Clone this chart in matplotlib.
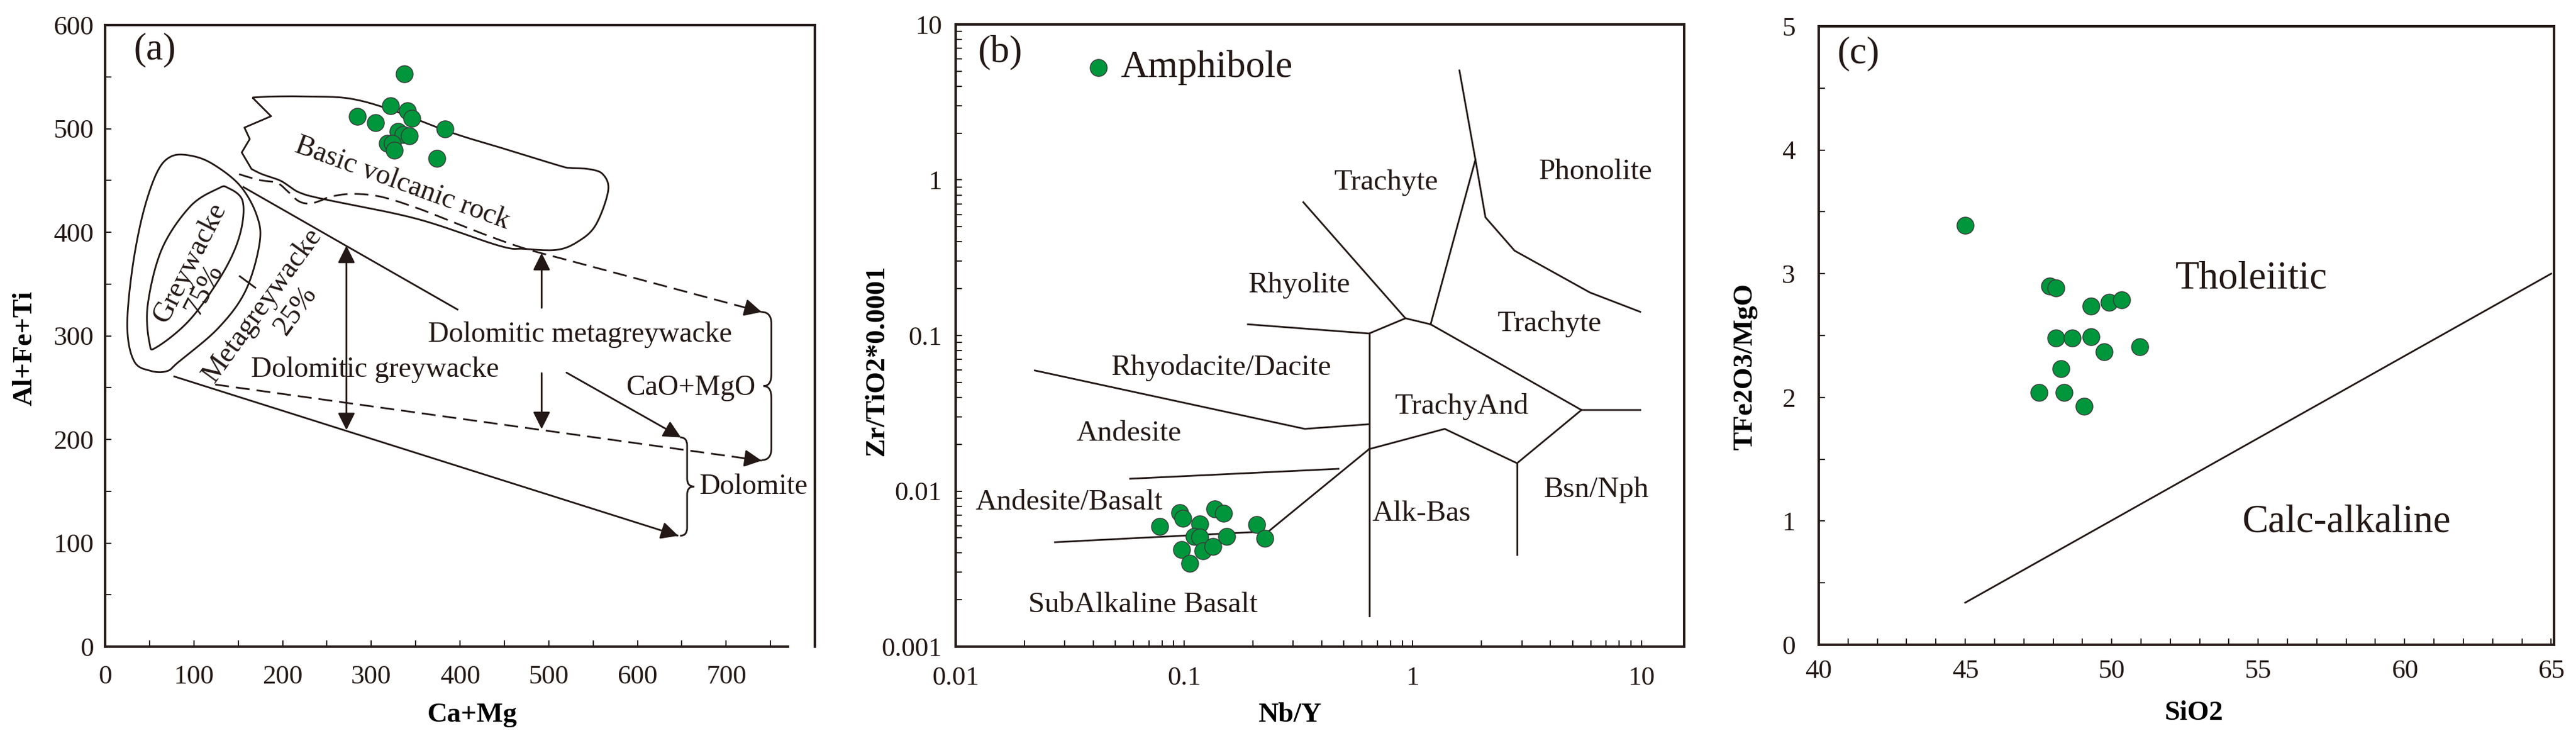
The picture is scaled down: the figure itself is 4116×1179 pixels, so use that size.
import numpy as np
import matplotlib
matplotlib.use('Agg')
import matplotlib.pyplot as plt
from matplotlib.path import Path
from matplotlib.patches import PathPatch
from matplotlib.ticker import MultipleLocator, FixedLocator, FixedFormatter, LogLocator, NullFormatter

plt.rcParams['font.family'] = ['Liberation Serif', 'DejaVu Serif']

INK = '#231815'
GREEN = '#00963c'

# ---------------- (a) Ca+Mg vs Al+Fe+Ti ----------------
a_camg = [337, 284, 305, 322, 341, 346, 383, 330, 336, 343, 318, 324, 326, 374]
a_alfeti = [553, 512, 506, 522, 517, 510, 500, 497, 494, 493, 486, 486, 479, 471]

basic_jagged = [(166, 530), (187, 512), (157, 501), (163, 490), (154, 477), (165, 461)]
basic_smooth = [(165, 461), (177, 456), (197, 450), (208, 444), (220, 438), (246, 432),
                (351, 413), (444, 387), (472, 384), (509, 383), (533, 391), (553, 407),
                (567, 440), (561, 456), (545, 461), (525, 462), (513, 464), (456, 479),
                (391, 496), (323, 518), (276, 529), (230, 531), (189, 531), (166, 530)]
greywacke_inner = [(138, 443), (155, 430), (152, 398), (133, 361), (96, 316), (58, 289),
                   (50, 293), (48, 330), (64, 384), (96, 425), (127, 442)]
greywacke_outer = [(74, 473), (96, 474), (121, 466), (152, 445), (171, 416), (174, 389),
                   (158, 343), (127, 307), (83, 275), (70, 266), (52, 266), (33, 275),
                   (25, 307), (30, 361), (42, 416), (58, 457)]
ellipse_tick = [(151, 358), (170, 346)]
upper_solid = [(155, 444), (398, 325)]
upper_dashed = [(151, 456), (173, 450.5), (193.5, 447.7), (205.6, 439.6), (217.7, 430.2),
                (229.9, 427.6), (242, 430.2), (254.2, 434.3), (278.4, 437), (310.7, 434.3),
                (351.1, 423.5), (391.5, 410), (432, 396.5), (472.5, 384.4), (512.9, 375),
                (740, 323)]
lower_dashed = [(124, 253), (740, 179.5)]
lower_solid = [(77, 261), (646, 107)]
double_arrow = [(272, 387), (272, 209)]
up_arrow = [(492, 327), (492, 380)]
down_arrow = [(492, 264), (492, 210)]
diag_arrow = [(520, 264.5), (649, 202)]
# brace: body x, y bottom, y top, end offset, tip offset
brace_cao = (751, 180, 323, -11, -9)
brace_dol = (656, 107, 202, -8, 8)

a_labels = [
    ('Basic volcanic rock', 335, 447, -20),
    ('Greywacke', 95.6, 370.5, 63),
    ('75%', 111.3, 344.5, 63),
    ('Metagreywacke', 177.4, 329.5, 54),
    ('25%', 215, 324, 54),
    ('Dolomitic metagreywacke', 535, 301, 0),
    ('Dolomitic greywacke', 304, 267, 0),
    ('CaO+MgO', 660, 250, 0),
    ('Dolomite', 731, 154, 0),
]

# ---------------- (b) Nb/Y vs Zr/TiO2 ----------------
b_nby = [0.0782, 0.0956, 0.0987, 0.1173, 0.1357, 0.1484, 0.207, 0.2253, 0.153,
         0.1105, 0.1169, 0.0975, 0.121, 0.1334, 0.1058]
b_zrti = [0.00594, 0.00724, 0.00667, 0.00617, 0.00766, 0.00719, 0.00611, 0.00497,
          0.00512, 0.00512, 0.00505, 0.00419, 0.00413, 0.0044, 0.00343]

b_lines = [
    [(0.0272, 0.00469), (0.234, 0.00551), (0.644, 0.0186)],
    [(0.058, 0.012), (0.473, 0.0139)],
    [(0.644, 0.00157), (0.644, 0.103)],
    [(0.0222, 0.0596), (0.337, 0.0251), (0.644, 0.0269)],
    [(0.190, 0.118), (0.644, 0.103), (0.929, 0.129), (1.197, 0.118)],
    [(0.332, 0.719), (0.929, 0.129)],
    [(1.197, 0.118), (5.47, 0.0332), (9.9, 0.0332)],
    [(1.60, 5.06), (1.88, 1.35), (1.197, 0.118)],
    [(1.88, 1.35), (2.08, 0.575), (2.79, 0.351), (5.96, 0.189), (9.89, 0.142)],
    [(0.644, 0.0186), (1.38, 0.0251), (2.86, 0.0151), (5.47, 0.0332)],
    [(2.86, 0.0151), (2.86, 0.00389)],
]
b_labels = [
    ('Trachyte', 0.763, 0.964), ('Phonolite', 6.31, 1.13), ('Rhyolite', 0.319, 0.21),
    ('Trachyte', 3.95, 0.118), ('Rhyodacite/Dacite', 0.145, 0.062),
    ('TrachyAnd', 1.63, 0.0348), ('Andesite', 0.0573, 0.0233),
    ('Andesite/Basalt', 0.0313, 0.00848), ('Bsn/Nph', 6.37, 0.0102),
    ('Alk-Bas', 1.09, 0.00713), ('SubAlkaline Basalt', 0.066, 0.00185),
]

# ---------------- (c) SiO2 vs TFe2O3/MgO ----------------
c_sio2 = [45.0, 47.89, 48.09, 49.30, 49.91, 50.34, 48.09, 48.66, 49.30, 49.75, 50.95,
          48.27, 47.51, 48.37, 49.05]
c_ratio = [3.39, 2.90, 2.885, 2.74, 2.77, 2.79, 2.48, 2.48, 2.49, 2.37, 2.41, 2.23,
           2.04, 2.04, 1.93]
c_line = [(45, 0.34), (65, 3.0)]


def catmull_rom(points, closed=False, n=20):
    p = np.asarray(points, dtype=float)
    if closed:
        p = np.vstack([p[-1], p, p[0], p[1]])
    else:
        p = np.vstack([p[0], p, p[-1]])
    out = []
    t = np.linspace(0, 1, n, endpoint=False)[:, None]
    for i in range(1, len(p) - 2):
        p0, p1, p2, p3 = p[i - 1], p[i], p[i + 1], p[i + 2]
        seg = 0.5 * ((2 * p1) + (-p0 + p2) * t + (2 * p0 - 5 * p1 + 4 * p2 - p3) * t ** 2
                     + (-p0 + 3 * p1 - 3 * p2 + p3) * t ** 3)
        out.append(seg)
    out.append(p[-2][None, :])
    return np.vstack(out)


def line(ax, pts, **kw):
    pts = np.asarray(pts)
    ax.plot(pts[:, 0], pts[:, 1], color=INK, lw=2.0, solid_capstyle='butt', **kw)


def arrow(ax, start, end, style='-|>'):
    ax.annotate('', xy=end, xytext=start,
                arrowprops=dict(arrowstyle=style, color=INK, lw=2.0, mutation_scale=42,
                                shrinkA=0, shrinkB=0))


def brace(ax, x, y0, y1, end_dx, tip_dx):
    ym = (y0 + y1) / 2
    h = (y1 - y0) * 0.08
    e = x + end_dx
    t = x + tip_dx
    verts = [(e, y1), (x, y1), (x, y1 - h), (x, ym + h), (x, ym), (t, ym),
             (x, ym), (x, ym - h), (x, y0 + h), (x, y0), (e, y0)]
    codes = [Path.MOVETO, Path.CURVE3, Path.CURVE3, Path.LINETO, Path.CURVE3, Path.CURVE3,
             Path.CURVE3, Path.CURVE3, Path.LINETO, Path.CURVE3, Path.CURVE3]
    ax.add_patch(PathPatch(Path(verts, codes), fc='none', ec=INK, lw=2.0))


def style_axes(ax):
    for s in ax.spines.values():
        s.set_linewidth(2.8)
        s.set_color(INK)
    ax.tick_params(which='both', direction='in', length=7, width=1.4, colors=INK,
                   top=False, right=False, labelsize=31, labelcolor=INK)


fig = plt.figure(figsize=(41.16, 11.79), dpi=100)
ax_a = fig.add_axes([0.04082, 0.12383, 0.27551, 0.84224])
ax_b = fig.add_axes([0.37099, 0.12383, 0.28280, 0.84310])
ax_c = fig.add_axes([0.70603, 0.12638, 0.28547, 0.83800])

# ---- panel (a)
ax = ax_a
style_axes(ax)
ax.set_xlim(0, 800)
ax.set_ylim(0, 600)
ax.spines['bottom'].set_bounds(0, 770)
ax.xaxis.set_major_locator(FixedLocator(range(0, 800, 100)))
ax.xaxis.set_minor_locator(FixedLocator(range(50, 800, 100)))
ax.yaxis.set_major_locator(MultipleLocator(100))
ax.yaxis.set_minor_locator(MultipleLocator(50))
ax.tick_params(axis='y', pad=13)
ax.tick_params(axis='x', pad=21)

jag = np.asarray(basic_jagged)
smo = catmull_rom(basic_smooth, n=12)
line(ax, np.vstack([jag, smo]))
line(ax, catmull_rom(greywacke_inner, closed=True))
line(ax, catmull_rom(greywacke_outer, closed=True))
line(ax, ellipse_tick)
line(ax, upper_solid)
dash_curve = np.vstack([catmull_rom(upper_dashed[:-1], n=12), [upper_dashed[-1]]])
line(ax, dash_curve, ls=(0, (8, 4)))
line(ax, lower_dashed, ls=(0, (8, 4)))
line(ax, lower_solid)
for pts in (dash_curve[-2:], lower_dashed, lower_solid):
    p = np.asarray(pts)
    d = p[-1] - p[-2]
    arrow(ax, p[-1] - d * 0.02 / np.hypot(*(d / [800, 600])), p[-1])
arrow(ax, double_arrow[0], double_arrow[1], '<|-|>')
arrow(ax, up_arrow[0], up_arrow[1])
arrow(ax, down_arrow[0], down_arrow[1])
arrow(ax, diag_arrow[0], diag_arrow[1])
brace(ax, *brace_cao)
brace(ax, *brace_dol)
for txt, x, y, rot in a_labels:
    ax.text(x, y, txt, ha='center', va='center', rotation=rot, rotation_mode='anchor',
            fontsize=33, color=INK)
ax.scatter(a_camg, a_alfeti, s=380, c=GREEN, edgecolors='#3a3a3a', linewidths=1, zorder=5)
ax.text(0.04, 0.96, '(a)', transform=ax.transAxes, fontsize=44, va='center', color=INK)
ax.set_xlabel('Ca+Mg', fontsize=32, fontweight='bold')
ax.set_ylabel('Al+Fe+Ti', fontsize=32, fontweight='bold')
ax.xaxis.set_label_coords(0.517, -0.11)
ax.xaxis.label.set_va('center')
ax.yaxis.set_label_coords(-0.113, 0.48)
ax.yaxis.label.set_va('center')

# ---- panel (b)
ax = ax_b
style_axes(ax)
ax.set_xscale('log')
ax.set_yscale('log')
ax.set_xlim(0.01, 15.4)
ax.set_ylim(0.001, 10)
ax.xaxis.set_major_locator(FixedLocator([0.01, 0.1, 1, 10]))
ax.xaxis.set_major_formatter(FixedFormatter(['0.01', '0.1', '1', '10']))
ax.yaxis.set_major_locator(FixedLocator([0.001, 0.01, 0.1, 1, 10]))
ax.yaxis.set_major_formatter(FixedFormatter(['0.001', '0.01', '0.1', '1', '10']))
for axis in (ax.xaxis, ax.yaxis):
    axis.set_minor_locator(LogLocator(base=10, subs=np.arange(2, 10), numticks=20))
    axis.set_minor_formatter(NullFormatter())
ax.tick_params(axis='y', pad=16)
ax.tick_params(axis='x', pad=23)
for pts in b_lines:
    p = np.asarray(pts)
    ax.plot(p[:, 0], p[:, 1], color=INK, lw=2.0)
for txt, x, y in b_labels:
    ax.text(x, y, txt, ha='center', va='center', fontsize=34, color=INK)
ax.scatter(b_nby, b_zrti, s=380, c=GREEN, edgecolors='#3a3a3a', linewidths=1, zorder=5)
ax.scatter([0.042], [5.3], s=380, c=GREEN, edgecolors='#3a3a3a', linewidths=1, zorder=5)
ax.text(0.0526, 5.3, 'Amphibole', fontsize=44, va='center', color=INK)
ax.text(0.03, 0.955, '(b)', transform=ax.transAxes, fontsize=44, va='center', color=INK)
ax.set_xlabel('Nb/Y', fontsize=32, fontweight='bold')
ax.set_ylabel('Zr/TiO2*0.0001', fontsize=32, fontweight='bold')
ax.xaxis.set_label_coords((2061 - 1527) / 1164, -0.11)
ax.xaxis.label.set_va('center')
ax.yaxis.set_label_coords(-0.108, 0.46)
ax.yaxis.label.set_va('center')

# ---- panel (c)
ax = ax_c
style_axes(ax)
ax.set_xlim(40, 65.1)
ax.set_ylim(0, 5)
ax.xaxis.set_major_locator(MultipleLocator(5))
ax.xaxis.set_minor_locator(MultipleLocator(1))
ax.yaxis.set_major_locator(MultipleLocator(1))
ax.yaxis.set_minor_locator(MultipleLocator(0.5))
ax.tick_params(axis='y', pad=27)
ax.tick_params(axis='x', pad=17)
p = np.asarray(c_line)
ax.plot(p[:, 0], p[:, 1], color=INK, lw=2.0)
ax.scatter(c_sio2, c_ratio, s=380, c=GREEN, edgecolors='#3a3a3a', linewidths=1, zorder=5)
ax.text(54.76, 2.96, 'Tholeiitic', ha='center', va='center', fontsize=45, color=INK)
ax.text(58.0, 0.99, 'Calc-alkaline', ha='center', va='center', fontsize=45, color=INK)
ax.text(0.025, 0.955, '(c)', transform=ax.transAxes, fontsize=44, va='center', color=INK)
ax.set_xlabel('SiO2', fontsize=32, fontweight='bold')
ax.set_ylabel('TFe2O3/MgO', fontsize=32, fontweight='bold')
ax.xaxis.set_label_coords((3506 - 2906) / 1175, -0.11)
ax.xaxis.label.set_va('center')
ax.yaxis.set_label_coords(-0.10, 0.45)
ax.yaxis.label.set_va('center')

fig.savefig('out.png', dpi=100, facecolor='white')
